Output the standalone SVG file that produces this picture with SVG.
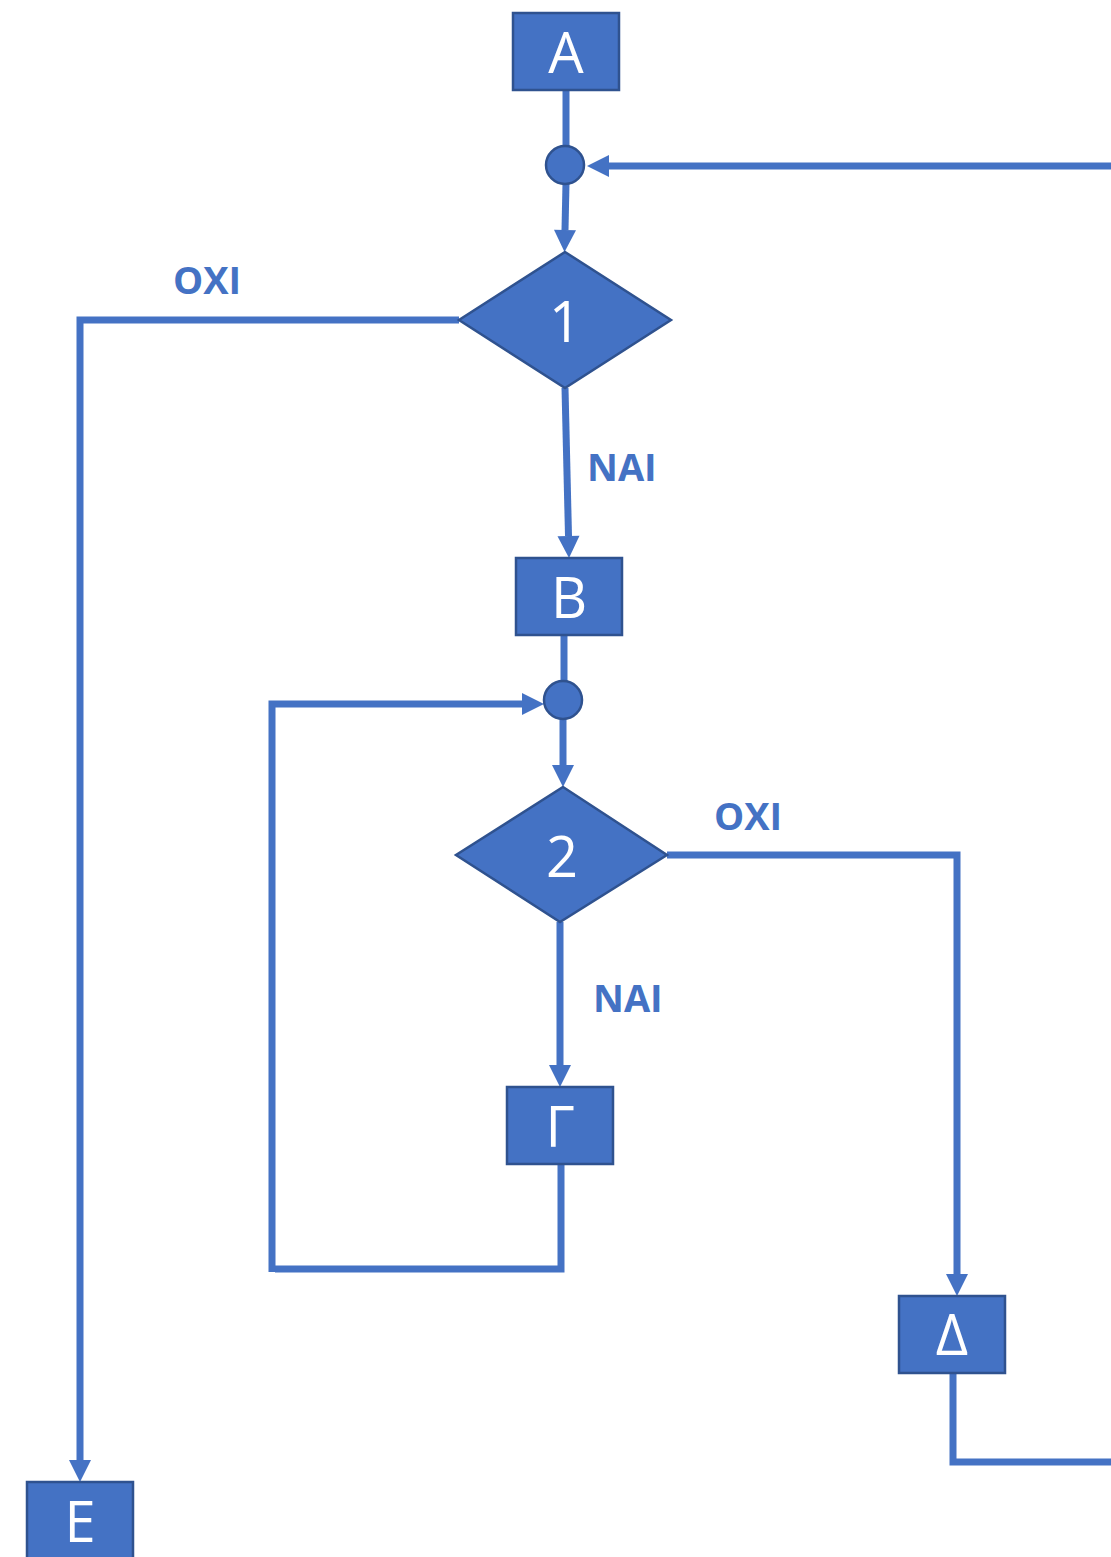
<svg xmlns="http://www.w3.org/2000/svg" width="1111" height="1557" viewBox="0 0 1111 1557">
  <style>
    .box { fill: #4472C4; stroke: #2F528F; stroke-width: 2.5; }
    .node-text { font-family: "Open Sans", "Liberation Sans", sans-serif; font-size: 56px; fill: #FFFFFF; text-anchor: middle; }
    .label { font-family: "Open Sans", "Liberation Sans", sans-serif; font-size: 38px; font-weight: bold; fill: #4472C4; }
    .wire { fill: none; stroke: #4472C4; stroke-width: 7; stroke-linejoin: miter; stroke-linecap: butt; }
  </style>
  <defs>
    <!-- arrowhead base sits on the line end; the tip reaches 22px further -->
    <marker id="arrow" markerUnits="userSpaceOnUse" markerWidth="22" markerHeight="22" refX="0" refY="11" orient="auto" overflow="visible">
      <path d="M0,0 L22,11 L0,22 z" fill="#4472C4"/>
    </marker>
  </defs>
  <rect width="1111" height="1557" fill="#FFFFFF"/>

  <!-- connectors -->
  <g id="connectors">
    <path class="wire" d="M566,90 L566,147"/>
    <path class="wire" d="M566,183 L565,230" marker-end="url(#arrow)"/>
    <path class="wire" d="M1111,166 L609,166" marker-end="url(#arrow)"/>
    <path class="wire" d="M459,320 L80,320 L80,1460" marker-end="url(#arrow)"/>
    <path class="wire" d="M565,388 L568.5,536" marker-end="url(#arrow)"/>
    <path class="wire" d="M564,635 L564,682"/>
    <path class="wire" d="M563,718 L563,765" marker-end="url(#arrow)"/>
    <path class="wire" d="M667,855 L957,855 L957,1274" marker-end="url(#arrow)"/>
    <path class="wire" d="M560,922 L560,1065" marker-end="url(#arrow)"/>
    <path class="wire" d="M561,1164 L561,1269 L275,1269"/>
    <path class="wire" d="M272,1272 L272,704 L522,704" marker-end="url(#arrow)"/>
    <path class="wire" d="M953,1373 L953,1462 L1111,1462"/>
  </g>

  <!-- nodes -->
  <g id="node-A">
    <rect class="box" x="513" y="13" width="106" height="77"/>
    <text class="node-text" x="566" y="73">A</text>
  </g>
  <g id="junction-1">
    <circle class="box" cx="565" cy="165" r="19"/>
  </g>
  <g id="decision-1">
    <polygon class="box" points="565,252 671,320 565,388 459,320"/>
    <text class="node-text" x="565" y="342">1</text>
  </g>
  <g id="node-B">
    <rect class="box" x="516" y="558" width="106" height="77"/>
    <text class="node-text" x="569" y="618">B</text>
  </g>
  <g id="junction-2">
    <circle class="box" cx="563" cy="700" r="19"/>
  </g>
  <g id="decision-2">
    <polygon class="box" points="563,787 667,855 560,922 456,855"/>
    <text class="node-text" x="562" y="877">2</text>
  </g>
  <g id="node-G">
    <rect class="box" x="507" y="1087" width="106" height="77"/>
    <text class="node-text" x="560" y="1147">Γ</text>
  </g>
  <g id="node-D">
    <rect class="box" x="899" y="1296" width="106" height="77"/>
    <text class="node-text" x="952" y="1355">Δ</text>
  </g>
  <g id="node-E">
    <rect class="box" x="27" y="1482" width="106" height="80"/>
    <text class="node-text" x="80" y="1542">Ε</text>
  </g>

  <!-- branch labels -->
  <g id="labels">
    <text class="label" x="173" y="294">ΟΧΙ</text>
    <text class="label" x="587" y="481">ΝΑΙ</text>
    <text class="label" x="714" y="830">ΟΧΙ</text>
    <text class="label" x="593" y="1012">ΝΑΙ</text>
  </g>
</svg>
